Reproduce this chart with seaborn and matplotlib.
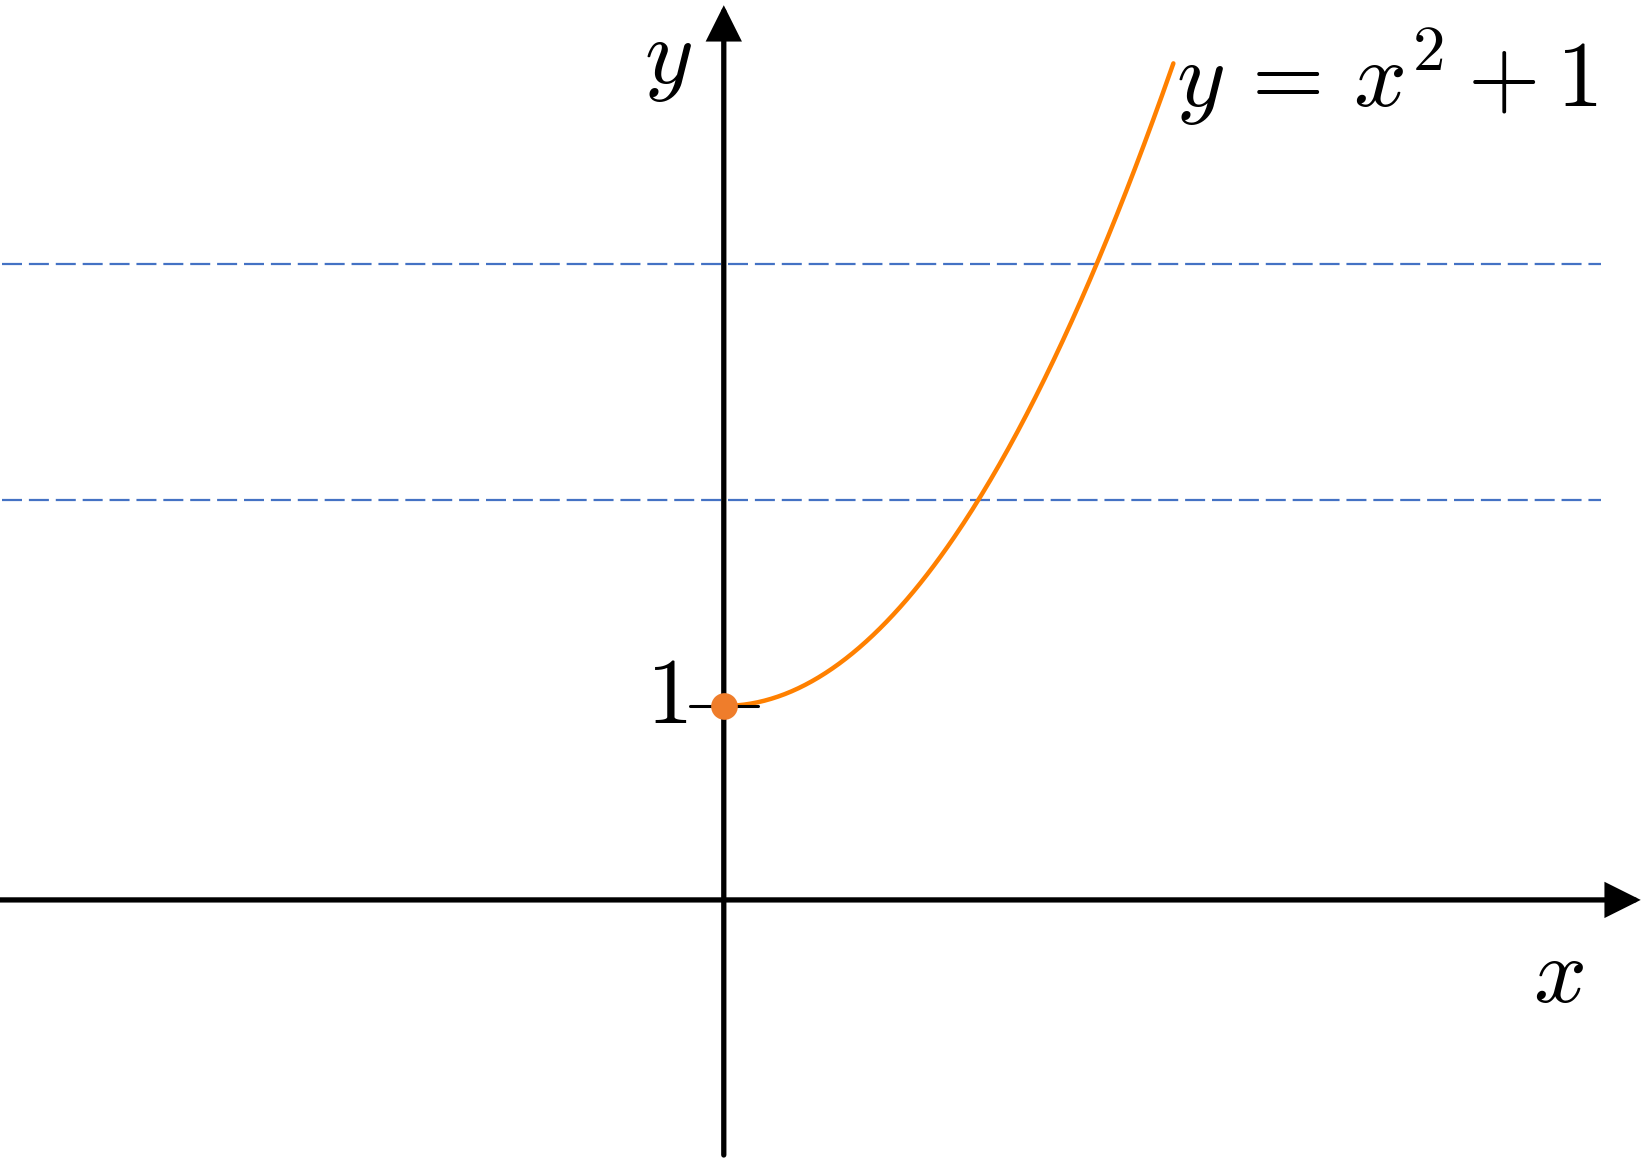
import numpy as np
import pandas as pd
import matplotlib
matplotlib.use("Agg")
import matplotlib.pyplot as plt
import seaborn as sns

# ---- data ----
curve_x = np.linspace(0.0, 1.82, 200)          # domain shown in the picture
curve_y = curve_x ** 2 + 1                      # y = x^2 + 1 as labelled
point_x = [0.0]
point_y = [1.0]
hlines_y = [2.06, 3.28]
ytick_vals = [1]
ytick_labels = [r"$1$"]

sns.set_theme(style="white")
plt.rcParams["mathtext.fontset"] = "cm"
plt.rcParams["font.family"] = ["DejaVu Sans"]
plt.rcParams["text.color"] = "black"

fig = plt.figure(figsize=(16.41, 11.62), dpi=100)
ax = fig.add_axes([0, 0, 1, 1])
ax.set_xlim(-2.93, 3.713)
ax.set_ylim(-1.351, 4.639)
ax.axis("off")

# dashed horizontal lines
for yv in hlines_y:
    ax.plot([-2.92, 3.55], [yv, yv], color="#4472C4", lw=1.6,
            dashes=(9.0, 3.1), zorder=1)

# curve
df = pd.DataFrame({"x": curve_x, "y": curve_y})
sns.lineplot(data=df, x="x", y="y", ax=ax, color="#FF8000", lw=3.2,
             zorder=3, sort=False)

# axes with arrows
arrow_style = "-|>,head_length=1.0,head_width=0.5"
ax.annotate("", xy=(3.712, 0), xytext=(-2.95, 0),
            arrowprops=dict(arrowstyle=arrow_style, mutation_scale=20,
                            lw=3.8, color="black", joinstyle="miter",
                            shrinkA=0, shrinkB=0), zorder=4)
ax.annotate("", xy=(0, 4.612), xytext=(0, -1.315),
            arrowprops=dict(arrowstyle=arrow_style, mutation_scale=20,
                            lw=3.8, color="black", joinstyle="miter",
                            shrinkA=0, shrinkB=0), zorder=4)

# y tick at 1
for yv, lab in zip(ytick_vals, ytick_labels):
    ax.plot([-0.138, 0.138], [yv, yv], color="black", lw=2.2, zorder=4)
    ax.text(-0.15, yv - 0.09, lab, fontsize=67, ha="right", va="baseline",
            color="black", zorder=5)

# point
sns.scatterplot(x=point_x, y=point_y, ax=ax, color="#EF7D2B", s=370,
                edgecolor="#EF7D2B", linewidth=0, zorder=6)

# labels
ax.text(-0.13, 4.21, r"$y$", fontsize=67, ha="right", va="baseline",
        color="black")
ax.text(3.377, -0.526, r"$x$", fontsize=67, ha="center", va="baseline",
        color="black")
ax.text(1.83, 4.088, r"$y\,=\,x^2+1$", fontsize=67, ha="left",
        va="baseline", color="black")

fig.savefig("out.png", dpi=100)
